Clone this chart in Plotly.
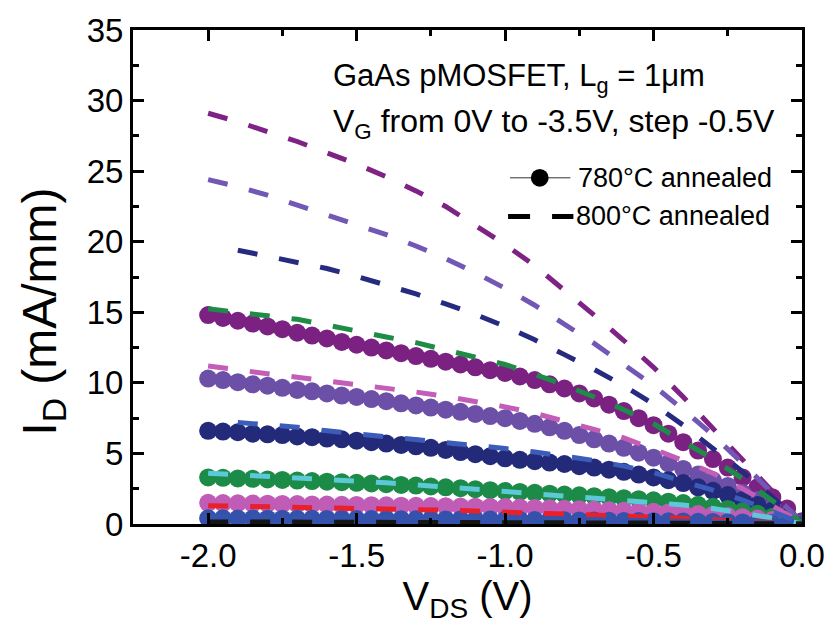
import plotly.graph_objects as go

# ---------------- data ----------------
VDS_780 = [round(-2.0 + 0.05 * i, 2) for i in range(41)]
VDS_800 = [round(-2.0 + 0.1 * i, 1) for i in range(21)]

# 780C annealed (markers), VG = -3.5 ... -1.0 V
ID_780_m35 = [14.8, 14.6, 14.4, 14.2, 14.0, 13.8, 13.55, 13.35, 13.15, 12.9, 12.7, 12.5, 12.3, 12.1, 11.9,
              11.7, 11.5, 11.3, 11.1, 10.9, 10.7, 10.45, 10.2, 9.9, 9.6, 9.25, 8.9, 8.45, 8.0, 7.5, 7.0,
              6.4, 5.8, 5.2, 4.6, 4.0, 3.3, 2.6, 1.9, 1.1, 0.2]
ID_780_m30 = [10.3, 10.2, 10.05, 9.9, 9.8, 9.65, 9.5, 9.4, 9.25, 9.1, 9.0, 8.85, 8.7, 8.55, 8.4, 8.25, 8.1,
              7.95, 7.8, 7.65, 7.5, 7.3, 7.1, 6.85, 6.6, 6.3, 6.0, 5.7, 5.4, 5.05, 4.7, 4.3, 3.9, 3.5, 3.1,
              2.7, 2.2, 1.7, 1.2, 0.6, 0.1]
ID_780_m25 = [6.6, 6.55, 6.5, 6.4, 6.35, 6.3, 6.2, 6.15, 6.05, 6.0, 5.9, 5.8, 5.7, 5.6, 5.5, 5.4, 5.25, 5.1,
              4.95, 4.8, 4.65, 4.55, 4.45, 4.35, 4.25, 4.1, 4.0, 3.85, 3.7, 3.5, 3.3, 3.1, 2.9, 2.6, 2.35,
              2.05, 1.7, 1.35, 0.95, 0.5, 0.05]
ID_780_m20 = [3.3, 3.27, 3.23, 3.2, 3.16, 3.12, 3.08, 3.04, 3.0, 2.96, 2.92, 2.87, 2.82, 2.77, 2.72, 2.66,
              2.6, 2.54, 2.47, 2.4, 2.33, 2.27, 2.21, 2.15, 2.09, 2.03, 1.97, 1.9, 1.83, 1.76, 1.68, 1.58,
              1.48, 1.36, 1.22, 1.07, 0.9, 0.72, 0.5, 0.27, 0.03]
ID_780_m15 = [1.5, 1.48, 1.47, 1.45, 1.44, 1.42, 1.41, 1.39, 1.38, 1.36, 1.35, 1.33, 1.32, 1.3, 1.29, 1.27,
              1.26, 1.24, 1.23, 1.21, 1.2, 1.17, 1.14, 1.11, 1.08, 1.05, 1.02, 0.98, 0.94, 0.9, 0.86, 0.81,
              0.76, 0.7, 0.63, 0.56, 0.48, 0.39, 0.28, 0.16, 0.02]
ID_780_m10 = [0.4, 0.4, 0.39, 0.39, 0.38, 0.38, 0.37, 0.37, 0.36, 0.36, 0.35, 0.35, 0.34, 0.34, 0.33, 0.33,
              0.32, 0.32, 0.31, 0.31, 0.3, 0.29, 0.28, 0.27, 0.26, 0.25, 0.24, 0.23, 0.22, 0.21, 0.2, 0.19,
              0.18, 0.16, 0.15, 0.13, 0.11, 0.09, 0.07, 0.04, 0.01]

# 800C annealed (dashed)
ID_800_a = [29.1, 28.5, 27.8, 27.1, 26.3, 25.5, 24.6, 23.6, 22.5, 21.2, 19.8, 18.3, 16.6, 14.8, 13.0, 11.1,
            9.0, 6.8, 4.6, 2.3, 0.1]
ID_800_b = [24.4, 23.9, 23.3, 22.6, 21.9, 21.2, 20.5, 19.7, 18.8, 17.8, 16.7, 15.5, 14.2, 12.8, 11.3, 9.8,
            8.1, 6.3, 4.3, 2.2, 0.1]
ID_800_c = [None, 19.4, 18.95, 18.5, 18.1, 17.55, 16.95, 16.3, 15.6, 14.85, 14.0, 13.05, 12.0, 10.95, 9.8,
            8.5, 7.0, 5.4, 3.7, 1.9, 0.1]
ID_800_d = [15.25, 15.0, 14.8, 14.5, 14.1, 13.65, 13.25, 12.85, 12.35, 11.85, 11.3, 10.6, 9.85, 9.0, 8.1,
            7.1, 5.9, 4.6, 3.2, 1.7, 0.1]
ID_800_e = [11.2, 10.9, 10.65, 10.4, 10.15, 9.85, 9.6, 9.35, 9.05, 8.7, 8.3, 7.85, 7.3, 6.7, 6.1, 5.3, 4.5,
            3.6, 2.5, 1.3, 0.05]
ID_800_f = [None, 7.2, 7.05, 6.85, 6.6, 6.4, 6.2, 5.95, 5.75, 5.55, 5.35, 5.1, 4.8, 4.5, 4.1, 3.65, 3.0, 2.4,
            1.7, 0.9, 0.05]
ID_800_g = [3.6, 3.5, 3.35, 3.22, 3.12, 3.02, 2.92, 2.78, 2.62, 2.48, 2.36, 2.2, 2.05, 1.88, 1.72, 1.55,
            1.35, 1.1, 0.8, 0.42, 0.02]
ID_800_h = [1.3, 1.27, 1.23, 1.2, 1.16, 1.12, 1.08, 1.03, 0.98, 0.92, 0.86, 0.78, 0.7, 0.62, 0.55, 0.48,
            0.4, 0.32, 0.22, 0.12, 0.01]
ID_800_i = [0.55, 0.54, 0.53, 0.52, 0.51, 0.5, 0.48, 0.46, 0.44, 0.42, 0.4, 0.37, 0.34, 0.31, 0.28, 0.25,
            0.21, 0.17, 0.12, 0.07, 0.01]
ID_800_j = [0.15, 0.15, 0.14, 0.14, 0.13, 0.13, 0.12, 0.12, 0.11, 0.11, 0.1, 0.09, 0.09, 0.08, 0.07, 0.06,
            0.05, 0.04, 0.03, 0.02, 0.0]

MARKER_SERIES = [ID_780_m35, ID_780_m30, ID_780_m25, ID_780_m20, ID_780_m15, ID_780_m10]
MARKER_COLORS = ["#7B2182", "#6C50A8", "#232A7A", "#1B8B47", "#C05CB6", "#3452AB"]
DASH_SERIES = [ID_800_a, ID_800_b, ID_800_c, ID_800_d, ID_800_e, ID_800_f, ID_800_g, ID_800_h, ID_800_i, ID_800_j]
DASH_COLORS = ["#7E2385", "#7357B5", "#262B80", "#1E8C46", "#C25DB8", "#3B5CB8", "#5CC8D8", "#E8202A",
               "#3454AE", "#151515"]

X_TICKS = [-2.0, -1.5, -1.0, -0.5, 0.0]
X_TICKTEXT = ["-2.0", "-1.5", "-1.0", "-0.5", "0.0"]
Y_TICKS = [0, 5, 10, 15, 20, 25, 30, 35]

FONT = "Liberation Sans, Arial, sans-serif"

fig = go.Figure()

for ys, c in zip(MARKER_SERIES, MARKER_COLORS):
    fig.add_trace(go.Scatter(x=VDS_780, y=ys, mode="lines+markers",
                             line=dict(color=c, width=1),
                             marker=dict(color=c, size=18, line=dict(width=0)),
                             showlegend=False))

for ys, c in zip(DASH_SERIES, DASH_COLORS):
    fig.add_trace(go.Scatter(x=VDS_800, y=ys, mode="lines",
                             line=dict(color=c, width=5, dash="20px,22px"),
                             showlegend=False))

# plot area in pixels: left 133, right 809, top 26, bottom 524
L, R, T, B = 133, 809, 26, 524
def px(p):
    return (p - L) / (R - L)
def py(p):
    return (B - p) / (B - T)

shapes = [
    dict(type="line", xref="paper", yref="paper", x0=px(514), x1=px(575), y0=py(175), y1=py(175),
         line=dict(color="#333333", width=1)),
    dict(type="circle", xref="paper", yref="paper", x0=px(535), x1=px(553), y0=py(184), y1=py(166),
         fillcolor="black", line=dict(color="black", width=0)),
    dict(type="line", xref="paper", yref="paper", x0=px(512), x1=px(578), y0=py(214), y1=py(214),
         line=dict(color="black", width=5, dash="22px,22px")),
]

annotations = [
    dict(text="GaAs pMOSFET, L<sub>g</sub> = 1μm", xref="paper", yref="paper", x=px(333), y=py(74),
         xanchor="left", yanchor="middle", showarrow=False, font=dict(family=FONT, size=31, color="black")),
    dict(text="V<sub>G</sub> from 0V to -3.5V, step -0.5V", xref="paper", yref="paper", x=px(333), y=py(120),
         xanchor="left", yanchor="middle", showarrow=False, font=dict(family=FONT, size=32, color="black")),
    dict(text="780°C annealed", xref="paper", yref="paper", x=px(581), y=py(175),
         xanchor="left", yanchor="middle", showarrow=False, font=dict(family=FONT, size=27, color="black")),
    dict(text="800°C annealed", xref="paper", yref="paper", x=px(579), y=py(214),
         xanchor="left", yanchor="middle", showarrow=False, font=dict(family=FONT, size=27, color="black")),
    dict(text="I<sub>D</sub> (mA/mm)", xref="paper", yref="paper", x=px(42), y=py(310),
         xanchor="center", yanchor="middle", textangle=-90, showarrow=False,
         font=dict(family=FONT, size=48, color="black")),
]

axis_common = dict(showline=True, linecolor="black", linewidth=3, mirror="ticks",
                   ticks="inside", ticklen=11, tickwidth=3, tickcolor="black",
                   showgrid=False, zeroline=False,
                   tickfont=dict(family=FONT, size=33, color="black"))

fig.update_layout(
    width=837, height=632,
    margin=dict(l=L, r=837 - R, t=T, b=632 - B),
    paper_bgcolor="white", plot_bgcolor="white",
    shapes=shapes, annotations=annotations, showlegend=False,
    xaxis=dict(range=[-2.253, 0], tickvals=X_TICKS, ticktext=X_TICKTEXT,
               minor=dict(dtick=0.25, tick0=0, ticks="inside", ticklen=6, tickwidth=3, tickcolor="black"),
               title=dict(text="V<sub>DS</sub> (V)", font=dict(family=FONT, size=40, color="black"), standoff=1),
               **axis_common),
    yaxis=dict(range=[0, 35], tickvals=Y_TICKS,
               minor=dict(dtick=2.5, tick0=0, ticks="inside", ticklen=6, tickwidth=3, tickcolor="black"),
               **axis_common),
)

fig.write_html("out.html")
